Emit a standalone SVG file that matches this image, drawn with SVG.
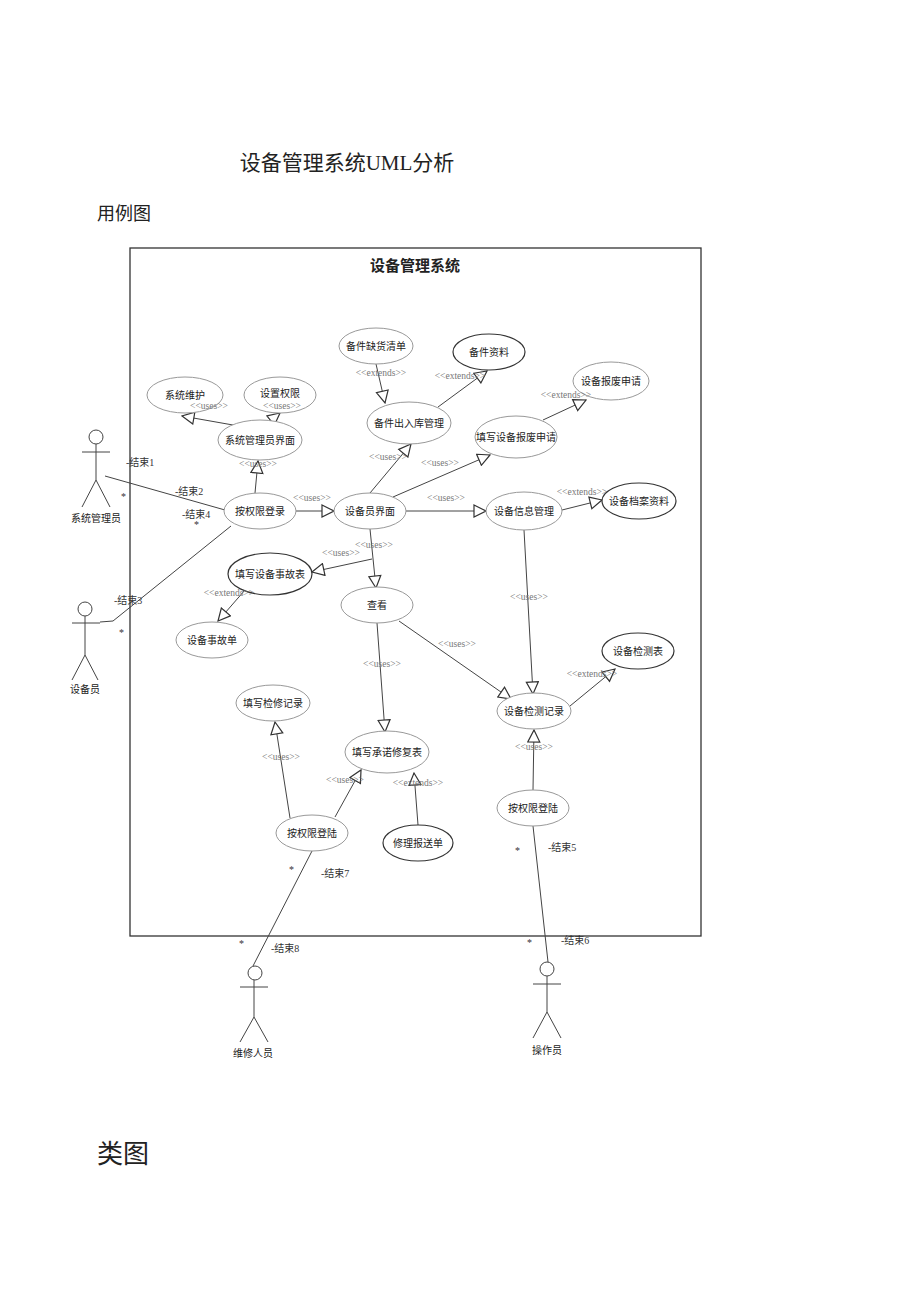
<svg xmlns="http://www.w3.org/2000/svg" width="920" height="1301" viewBox="0 0 920 1301">
<style>
text{font-family:"Liberation Serif","Noto Sans CJK SC",serif;fill:#222}
.n ellipse{fill:#fff;stroke:#999;stroke-width:1}
.n.d ellipse{stroke:#333;stroke-width:1.2}
.n text{font-size:10px;text-anchor:middle;dominant-baseline:central}
.c line,.c polyline{stroke:#444;stroke-width:1;fill:none}
.a{marker-end:url(#tri)}
.l{font-size:9.5px;fill:#777;text-anchor:middle}
.m{font-size:10px;fill:#333}
.act circle,.act path{fill:#fff;stroke:#444;stroke-width:1}
.act text{font-size:10px;text-anchor:middle}
</style>
<defs>
<marker id="tri" viewBox="0 0 14 14" refX="13" refY="7" markerWidth="14" markerHeight="14" markerUnits="userSpaceOnUse" orient="auto">
<path d="M1,1 L13,7 L1,13 Z" fill="#fff" stroke="#333" stroke-width="1.2"/>
</marker>
</defs>
<rect width="920" height="1301" fill="#fff"/>
<text x="347" y="170" font-size="21" text-anchor="middle">设备管理系统UML分析</text>
<text x="97" y="220" font-size="18">用例图</text>
<text x="97" y="1163" font-size="26">类图</text>
<rect x="130" y="248" width="571" height="688" fill="none" stroke="#333" stroke-width="1.3"/>
<text x="415" y="271" font-size="15" font-weight="bold" text-anchor="middle" style="font-family:'Noto Sans CJK SC',sans-serif">设备管理系统</text>

<g class="c">
<line x1="105" y1="476" x2="225" y2="510"/>
<polyline points="100,622 113,621 231,526"/>
<line class="a" x1="255" y1="493" x2="258" y2="461"/>
<line class="a" x1="233" y1="425" x2="182" y2="416"/>
<line class="a" x1="270" y1="421" x2="280" y2="413"/>
<line class="a" x1="296" y1="511" x2="334" y2="511"/>
<line class="a" x1="370" y1="493" x2="411" y2="444"/>
<line class="a" x1="393" y1="497" x2="490" y2="455"/>
<line class="a" x1="406" y1="511" x2="486" y2="511"/>
<line class="a" x1="562" y1="510" x2="602" y2="500"/>
<line class="a" x1="376" y1="364" x2="385" y2="403"/>
<line class="a" x1="438" y1="407" x2="487" y2="371"/>
<line class="a" x1="543" y1="420" x2="586" y2="400"/>
<line class="a" x1="370" y1="529" x2="376" y2="588"/>
<line class="a" x1="372" y1="559" x2="312" y2="572"/>
<line class="a" x1="245" y1="590" x2="218" y2="621"/>
<line class="a" x1="399" y1="621" x2="511" y2="699"/>
<line class="a" x1="377" y1="623" x2="385" y2="732"/>
<line class="a" x1="524" y1="530" x2="533" y2="694"/>
<line class="a" x1="570" y1="706" x2="615" y2="669"/>
<line class="a" x1="533" y1="790" x2="534" y2="730"/>
<line class="a" x1="290" y1="818" x2="275" y2="722"/>
<line class="a" x1="335" y1="817" x2="361" y2="770"/>
<line class="a" x1="418" y1="825" x2="414" y2="773"/>
<line x1="312" y1="851" x2="253" y2="966"/>
<line x1="533" y1="826" x2="548" y2="962"/>
</g>

<g id="n1" class="n"><ellipse cx="185" cy="395" rx="38" ry="18"/><text x="185" y="395">系统维护</text></g>
<g id="n2" class="n"><ellipse cx="280" cy="395" rx="36" ry="18"/><text x="280" y="393">设置权限</text></g>
<g id="n3" class="n"><ellipse cx="260" cy="440" rx="42" ry="20"/><text x="260" y="440">系统管理员界面</text></g>
<g id="n4" class="n"><ellipse cx="376" cy="346" rx="37" ry="18"/><text x="376" y="346">备件缺货清单</text></g>
<g id="n5" class="n d"><ellipse cx="489" cy="352" rx="36" ry="18"/><text x="489" y="352">备件资料</text></g>
<g id="n6" class="n"><ellipse cx="409" cy="423" rx="42" ry="21"/><text x="409" y="423">备件出入库管理</text></g>
<g id="n7" class="n"><ellipse cx="611" cy="381" rx="38" ry="19"/><text x="611" y="381">设备报废申请</text></g>
<g id="n8" class="n"><ellipse cx="516" cy="437" rx="41" ry="21"/><text x="516" y="437">填写设备报废申请</text></g>
<g id="n9" class="n"><ellipse cx="260" cy="511" rx="36" ry="18"/><text x="260" y="511">按权限登录</text></g>
<g id="n10" class="n"><ellipse cx="370" cy="511" rx="36" ry="18"/><text x="370" y="511">设备员界面</text></g>
<g id="n11" class="n"><ellipse cx="524" cy="511" rx="38" ry="19"/><text x="524" y="511">设备信息管理</text></g>
<g id="n12" class="n d"><ellipse cx="639" cy="501" rx="37" ry="18"/><text x="639" y="501">设备档案资料</text></g>
<g id="n13" class="n d"><ellipse cx="270" cy="574" rx="42" ry="21"/><text x="270" y="574">填写设备事故表</text></g>
<g id="n14" class="n"><ellipse cx="212" cy="640" rx="36" ry="18"/><text x="212" y="640">设备事故单</text></g>
<g id="n15" class="n"><ellipse cx="377" cy="605" rx="36" ry="18"/><text x="377" y="605">查看</text></g>
<g id="n16" class="n d"><ellipse cx="638" cy="651" rx="36" ry="18"/><text x="638" y="651">设备检测表</text></g>
<g id="n17" class="n"><ellipse cx="534" cy="711" rx="37" ry="18"/><text x="534" y="711">设备检测记录</text></g>
<g id="n18" class="n"><ellipse cx="273" cy="703" rx="37" ry="18"/><text x="273" y="703">填写检修记录</text></g>
<g id="n19" class="n"><ellipse cx="387" cy="752" rx="42" ry="21"/><text x="387" y="752">填写承诺修复表</text></g>
<g id="n20" class="n"><ellipse cx="312" cy="833" rx="36" ry="18"/><text x="312" y="833">按权限登陆</text></g>
<g id="n21" class="n d"><ellipse cx="418" cy="843" rx="35" ry="18"/><text x="418" y="843">修理报送单</text></g>
<g id="n22" class="n"><ellipse cx="533" cy="808" rx="36" ry="18"/><text x="533" y="808">按权限登陆</text></g>

<g id="actor1" class="act"><circle cx="96" cy="437" r="7"/><path d="M82,452H110M96,444V480L82,507M96,480L110,507"/><text x="96" y="522">系统管理员</text></g>
<g id="actor2" class="act"><circle cx="85" cy="609" r="7"/><path d="M72,623H100M85,616V655L72,680M85,655L98,680"/><text x="85" y="693">设备员</text></g>
<g id="actor3" class="act"><circle cx="255" cy="973" r="7"/><path d="M240,987H268M254,980V1017L240,1042M254,1017L268,1042"/><text x="253" y="1057">维修人员</text></g>
<g id="actor4" class="act"><circle cx="547" cy="969" r="7"/><path d="M533,984H561M547,976V1012L533,1038M547,1012L561,1038"/><text x="547" y="1054">操作员</text></g>

<g>
<text class="l" x="258" y="467">&lt;&lt;uses&gt;&gt;</text>
<text class="l" x="209" y="409">&lt;&lt;uses&gt;&gt;</text>
<text class="l" x="282" y="409">&lt;&lt;uses&gt;&gt;</text>
<text class="l" x="312" y="501">&lt;&lt;uses&gt;&gt;</text>
<text class="l" x="388" y="460">&lt;&lt;uses&gt;&gt;</text>
<text class="l" x="440" y="466">&lt;&lt;uses&gt;&gt;</text>
<text class="l" x="446" y="501">&lt;&lt;uses&gt;&gt;</text>
<text class="l" x="582" y="495">&lt;&lt;extends&gt;&gt;</text>
<text class="l" x="381" y="376">&lt;&lt;extends&gt;&gt;</text>
<text class="l" x="460" y="379">&lt;&lt;extends&gt;&gt;</text>
<text class="l" x="566" y="398">&lt;&lt;extends&gt;&gt;</text>
<text class="l" x="374" y="548">&lt;&lt;uses&gt;&gt;</text>
<text class="l" x="341" y="556">&lt;&lt;uses&gt;&gt;</text>
<text class="l" x="229" y="596">&lt;&lt;extends&gt;&gt;</text>
<text class="l" x="457" y="647">&lt;&lt;uses&gt;&gt;</text>
<text class="l" x="382" y="667">&lt;&lt;uses&gt;&gt;</text>
<text class="l" x="529" y="600">&lt;&lt;uses&gt;&gt;</text>
<text class="l" x="592" y="677">&lt;&lt;extends&gt;&gt;</text>
<text class="l" x="534" y="750">&lt;&lt;uses&gt;&gt;</text>
<text class="l" x="281" y="760">&lt;&lt;uses&gt;&gt;</text>
<text class="l" x="345" y="783">&lt;&lt;uses&gt;&gt;</text>
<text class="l" x="418" y="786">&lt;&lt;extends&gt;&gt;</text>
<text class="m" x="126" y="466">-结束1</text>
<text class="m" x="121" y="500">*</text>
<text class="m" x="175" y="495">-结束2</text>
<text class="m" x="182" y="518">-结束4</text>
<text class="m" x="194" y="528">*</text>
<text class="m" x="114" y="604">-结束3</text>
<text class="m" x="119" y="636">*</text>
<text class="m" x="289" y="873">*</text>
<text class="m" x="321" y="877">-结束7</text>
<text class="m" x="239" y="947">*</text>
<text class="m" x="271" y="952">-结束8</text>
<text class="m" x="515" y="854">*</text>
<text class="m" x="548" y="851">-结束5</text>
<text class="m" x="527" y="946">*</text>
<text class="m" x="561" y="944">-结束6</text>
</g>
</svg>
